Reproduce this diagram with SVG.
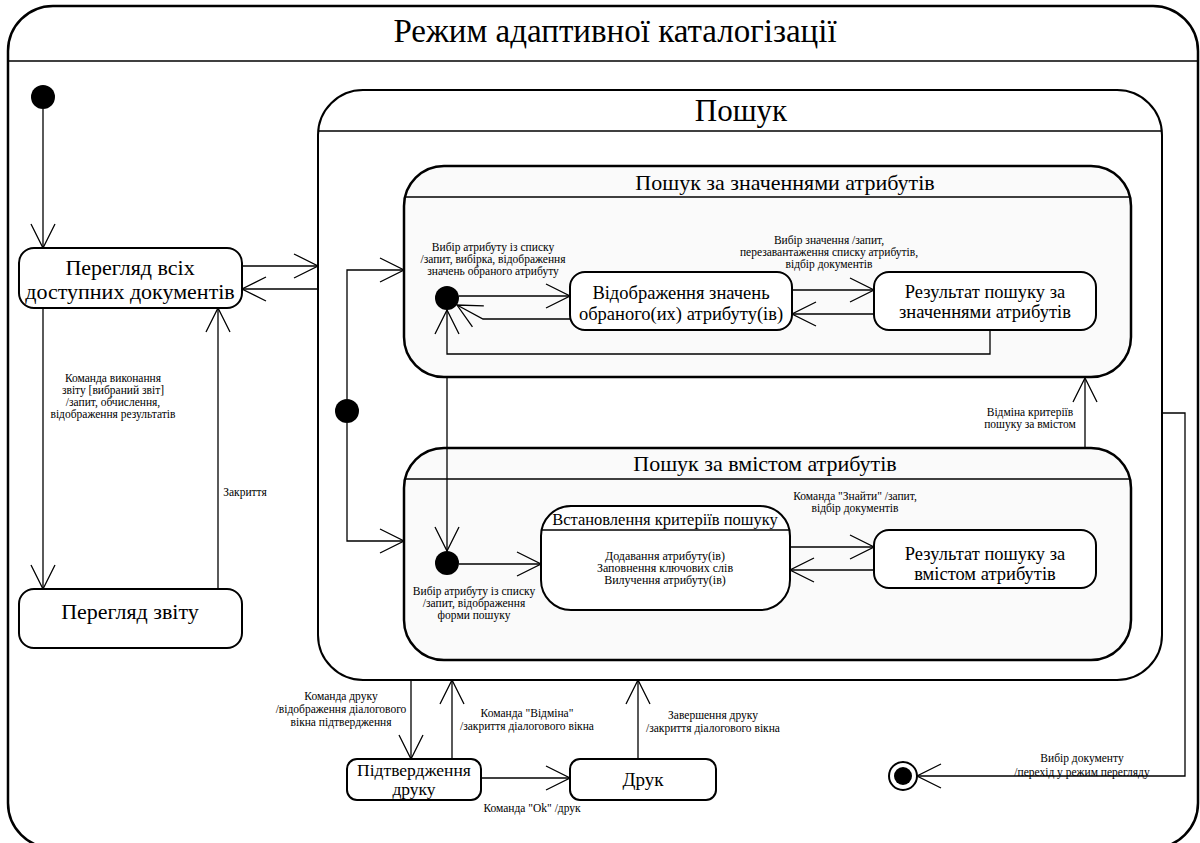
<svg xmlns="http://www.w3.org/2000/svg" width="1200" height="843" viewBox="0 0 1200 843">
<style>
text{font-family:"Liberation Serif",serif;fill:#000}
.t{text-anchor:middle}
.lbl{font-size:11.5px;text-anchor:middle}
.st{fill:#fff;stroke:#000;stroke-width:2}
.comp{fill:#fafafa;stroke:#000;stroke-width:2.5}
.sep{stroke:#000;stroke-width:1.5}
.c{fill:none;stroke:#000;stroke-width:1.3}
</style>
<defs>
<marker id="a" viewBox="0 0 26 26" refX="25" refY="13" markerWidth="26" markerHeight="26" orient="auto" markerUnits="userSpaceOnUse">
<path d="M1,1 L25,13 L1,25" fill="none" stroke="#000" stroke-width="1.3"/>
</marker>
</defs>
<rect width="1200" height="843" fill="#fff"/>
<g id="frame">
<rect x="8" y="6" width="1190" height="842" rx="45" fill="#fff" stroke="#000" stroke-width="2.5"/>
<line x1="8" y1="61" x2="1198" y2="61" class="sep"/>
<text x="615" y="42" class="t" font-size="33">Режим адаптивної каталогізації</text>
</g>
<g id="search">
<rect x="318" y="90" width="844" height="590" rx="45" fill="#fff" stroke="#000" stroke-width="2"/>
<line x1="318" y1="131" x2="1162" y2="131" class="sep"/>
<text x="741" y="121" class="t" font-size="31">Пошук</text>
</g>
<g id="byValue">
<rect x="404" y="166" width="727" height="211" rx="40" class="comp"/>
<line x1="404" y1="197" x2="1131" y2="197" class="sep"/>
<text x="785" y="190" class="t" font-size="22">Пошук за значеннями атрибутів</text>
</g>
<g id="byContent">
<rect x="404" y="448" width="727" height="212" rx="40" class="comp"/>
<line x1="404" y1="479" x2="1131" y2="479" class="sep"/>
<text x="765" y="471" class="t" font-size="22">Пошук за вмістом атрибутів</text>
</g>
<g id="init"><circle cx="43" cy="97" r="12" fill="#000"/></g>
<g id="fork"><circle cx="347" cy="411" r="12" fill="#000"/></g>
<g id="init1"><circle cx="447" cy="298" r="12" fill="#000"/></g>
<g id="init2"><circle cx="447" cy="563" r="12" fill="#000"/></g>
<g id="final"><circle cx="903" cy="776" r="14" fill="#fff" stroke="#000" stroke-width="2"/><circle cx="903" cy="776" r="9" fill="#000"/></g>
<g id="viewAll">
<rect x="19" y="248" width="223" height="60" rx="15" class="st"/>
<text x="130" y="275" class="t" font-size="22">Перегляд всіх</text>
<text x="130" y="299" class="t" font-size="22">доступних документів</text>
</g>
<g id="viewReport">
<rect x="19" y="589" width="223" height="59" rx="15" class="st"/>
<text x="130" y="619" class="t" font-size="22">Перегляд звіту</text>
</g>
<g id="showValues">
<rect x="570" y="272" width="222" height="58" rx="15" class="st"/>
<text x="681" y="299" class="t" font-size="18.5">Відображення значень</text>
<text x="681" y="320" class="t" font-size="18.5">обраного(их) атрибуту(ів)</text>
</g>
<g id="result1">
<rect x="874" y="272" width="222" height="58" rx="15" class="st"/>
<text x="985" y="298" class="t" font-size="18.5">Результат пошуку за</text>
<text x="985" y="318" class="t" font-size="18.5">значеннями атрибутів</text>
</g>
<g id="criteria">
<rect x="541" y="506" width="249" height="104" rx="30" class="st"/>
<line x1="541" y1="530" x2="790" y2="530" class="sep"/>
<text x="665" y="525" class="t" font-size="16.5">Встановлення критеріїв пошуку</text>
<text x="665" y="560" class="t" font-size="12">Додавання атрибуту(ів)</text>
<text x="665" y="572" class="t" font-size="12">Заповнення ключових слів</text>
<text x="665" y="584" class="t" font-size="12">Вилучення атрибуту(ів)</text>
</g>
<g id="result2">
<rect x="874" y="530" width="222" height="58" rx="15" class="st"/>
<text x="985" y="560" class="t" font-size="18.5">Результат пошуку за</text>
<text x="985" y="580" class="t" font-size="18.5">вмістом атрибутів</text>
</g>
<g id="confirm">
<rect x="347" y="759" width="134" height="41" rx="10" class="st"/>
<text x="414" y="776" class="t" font-size="17.5">Підтвердження</text>
<text x="414" y="795" class="t" font-size="17.5">друку</text>
</g>
<g id="print">
<rect x="570" y="759" width="146" height="41" rx="10" class="st"/>
<text x="643" y="786" class="t" font-size="19">Друк</text>
</g>
<g id="connectors">
<path class="c" d="M43,109 V248" marker-end="url(#a)"/>
<path class="c" d="M43,308 V589" marker-end="url(#a)"/>
<path class="c" d="M218,589 V308" marker-end="url(#a)"/>
<path class="c" d="M242,266 H318" marker-end="url(#a)"/>
<path class="c" d="M318,289 H242" marker-end="url(#a)"/>
<path class="c" d="M347,399 V270 H404" marker-end="url(#a)"/>
<path class="c" d="M347,423 V541 H404" marker-end="url(#a)"/>
<path class="c" d="M459,296 H570" marker-end="url(#a)"/>
<path class="c" d="M570,319 H483 L457,305" marker-end="url(#a)"/>
<path class="c" d="M792,290 H874" marker-end="url(#a)"/>
<path class="c" d="M874,314 H792" marker-end="url(#a)"/>
<path class="c" d="M990,330 V354 H447 V310" marker-end="url(#a)"/>
<path class="c" d="M447,378 V551" marker-end="url(#a)"/>
<path class="c" d="M459,564 H541" marker-end="url(#a)"/>
<path class="c" d="M790,547 H874" marker-end="url(#a)"/>
<path class="c" d="M874,570 H790" marker-end="url(#a)"/>
<path class="c" d="M1085,448 V378" marker-end="url(#a)"/>
<path class="c" d="M1162,413 H1185 V776 H917" marker-end="url(#a)"/>
<path class="c" d="M411,680 V759" marker-end="url(#a)"/>
<path class="c" d="M452,759 V680" marker-end="url(#a)"/>
<path class="c" d="M481,778 H570" marker-end="url(#a)"/>
<path class="c" d="M638,759 V680" marker-end="url(#a)"/>
</g>
<g id="labels">
<text class="lbl"><tspan x="113" y="382">Команда виконання</tspan><tspan x="113" y="394">звіту [вибраний звіт]</tspan><tspan x="113" y="406">/запит, обчислення,</tspan><tspan x="113" y="418">відображення результатів</tspan></text>
<text class="lbl" x="245" y="496">Закриття</text>
<text class="lbl"><tspan x="493" y="251">Вибір атрибуту із списку</tspan><tspan x="493" y="263">/запит, вибірка, відображення</tspan><tspan x="493" y="275">значень обраного атрибуту</tspan></text>
<text class="lbl"><tspan x="829" y="244">Вибір значення /запит,</tspan><tspan x="829" y="256">перезавантаження списку атрибутів,</tspan><tspan x="829" y="268">відбір документів</tspan></text>
<text class="lbl"><tspan x="474" y="595">Вибір атрибуту із списку</tspan><tspan x="474" y="607">/запит, відображення</tspan><tspan x="474" y="619">форми пошуку</tspan></text>
<text class="lbl"><tspan x="855" y="500">Команда "Знайти" /запит,</tspan><tspan x="855" y="512">відбір документів</tspan></text>
<text class="lbl"><tspan x="1030" y="416">Відміна критеріїв</tspan><tspan x="1030" y="428">пошуку за вмістом</tspan></text>
<text class="lbl"><tspan x="341" y="700">Команда друку</tspan><tspan x="341" y="713">/відображення діалогового</tspan><tspan x="341" y="726">вікна підтвердження</tspan></text>
<text class="lbl"><tspan x="527" y="717">Команда "Відміна"</tspan><tspan x="527" y="730">/закриття діалогового вікна</tspan></text>
<text class="lbl" x="532" y="812">Команда "Ok" /друк</text>
<text class="lbl"><tspan x="713" y="719">Завершення друку</tspan><tspan x="713" y="732">/закриття діалогового вікна</tspan></text>
<text class="lbl"><tspan x="1082" y="762">Вибір документу</tspan><tspan x="1082" y="776">/перехід у режим перегляду</tspan></text>
</g>
</svg>
